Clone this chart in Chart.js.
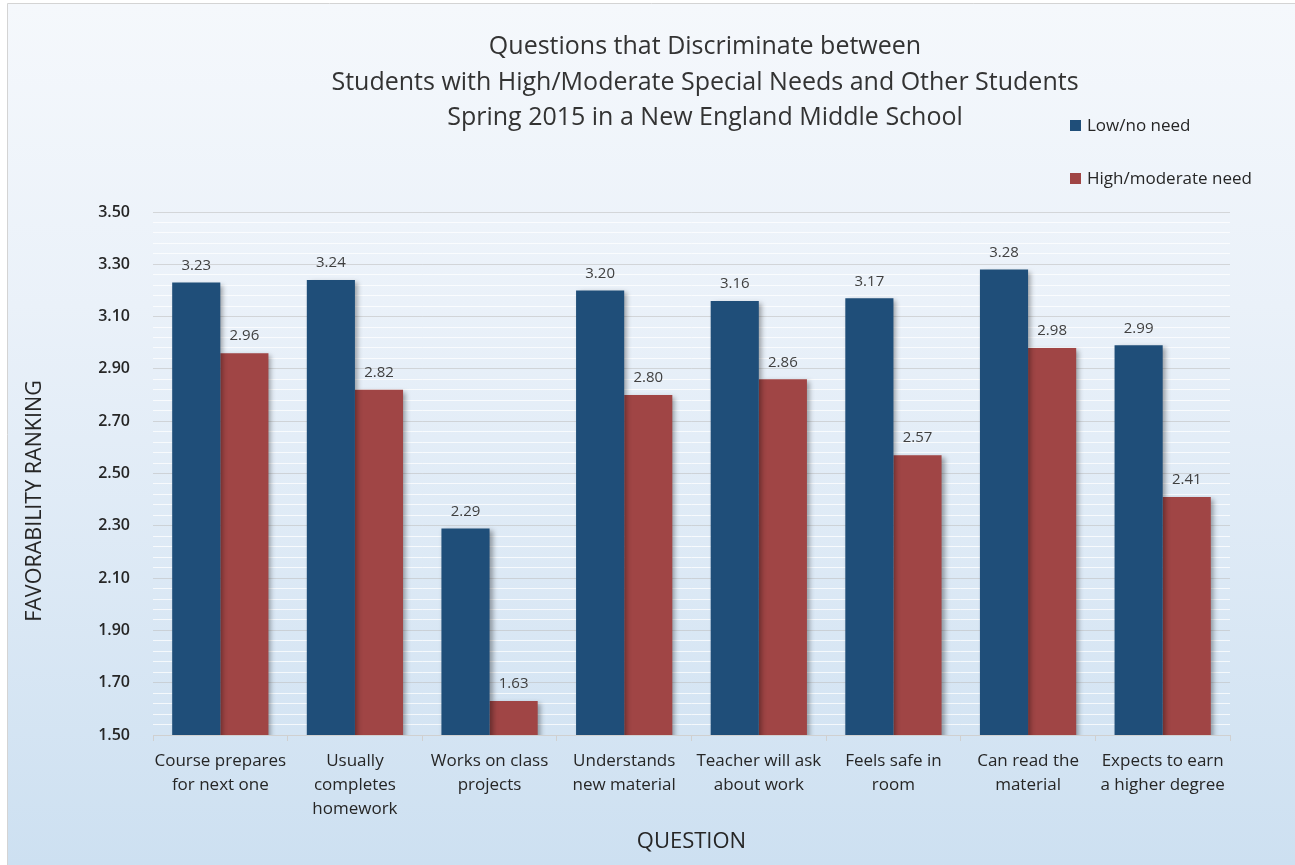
<!DOCTYPE html>
<html>
<head>
<meta charset="utf-8">
<script src="https://cdn.jsdelivr.net/npm/chart.js@4.4.1/dist/chart.umd.min.js"></script>
<style>
  html, body { margin: 0; padding: 0; background: #ffffff; }
  #wrap { position: relative; width: 1295px; height: 865px; }
</style>
</head>
<body>
<div id="wrap"><canvas id="c" width="1295" height="865"></canvas></div>
<script>
// ---- data ----
const categories = [
  ["Course prepares", "for next one"],
  ["Usually", "completes", "homework"],
  ["Works on class", "projects"],
  ["Understands", "new material"],
  ["Teacher will ask", "about work"],
  ["Feels safe in", "room"],
  ["Can read the", "material"],
  ["Expects to earn", "a higher degree"]
];
const lowNoNeed = [3.23, 3.24, 2.29, 3.20, 3.16, 3.17, 3.28, 2.99];
const highModerateNeed = [2.96, 2.82, 1.63, 2.80, 2.86, 2.57, 2.98, 2.41];
const seriesNames = ["Low/no need", "High/moderate need"];
const titleLines = [
  "Questions that Discriminate between",
  "Students with High/Moderate Special Needs and Other Students",
  "Spring 2015 in a New England Middle School"
];
const yAxisTitle = "FAVORABILITY RANKING";
const xAxisTitle = "QUESTION";
const yMin = 1.5, yMax = 3.5, yMinorStep = 0.04;

const FONT = "'Open Sans', Lato, 'DejaVu Sans', sans-serif";
const TEXT = "#262626";

// ---- plugins ----
const backgroundPlugin = {
  id: 'bg',
  beforeDraw(chart) {
    const ctx = chart.ctx;
    const W = chart.width, H = chart.height;
    ctx.save();
    ctx.fillStyle = '#ffffff';
    ctx.fillRect(0, 0, W, H);
    const g = ctx.createLinearGradient(0, 4, 0, H);
    g.addColorStop(0, '#f5f8fc');
    g.addColorStop(0.35, '#eaf1f9');
    g.addColorStop(1, '#cde0f1');
    ctx.fillStyle = g;
    ctx.fillRect(8, 4, W - 8, H - 4);
    ctx.strokeStyle = '#d4d4d4';
    ctx.lineWidth = 1;
    ctx.beginPath();
    ctx.moveTo(7.5, H);
    ctx.lineTo(7.5, 3.5);
    ctx.lineTo(W, 3.5);
    ctx.stroke();
    ctx.restore();
  }
};

const shadowPlugin = {
  id: 'barShadow',
  beforeDatasetDraw(chart) {
    const ctx = chart.ctx;
    ctx.save();
    ctx.shadowColor = 'rgba(0,0,0,0.35)';
    ctx.shadowBlur = 5;
    ctx.shadowOffsetX = 3;
    ctx.shadowOffsetY = 2;
  },
  afterDatasetDraw(chart) {
    chart.ctx.restore();
  }
};

const labelsPlugin = {
  id: 'valueLabels',
  afterDatasetsDraw(chart) {
    const ctx = chart.ctx;
    ctx.save();
    ctx.font = "15px " + FONT;
    ctx.fillStyle = '#404040';
    ctx.textAlign = 'center';
    ctx.textBaseline = 'middle';
    chart.data.datasets.forEach((ds, i) => {
      const meta = chart.getDatasetMeta(i);
      meta.data.forEach((bar, j) => {
        ctx.fillText(ds.data[j].toFixed(2), bar.x, bar.y - 17);
      });
    });
    ctx.restore();
  }
};

const titleLegendPlugin = {
  id: 'titleLegend',
  afterDraw(chart) {
    const ctx = chart.ctx;
    ctx.save();
    // title
    ctx.font = "25px " + FONT;
    ctx.fillStyle = '#333333';
    ctx.textAlign = 'center';
    ctx.textBaseline = 'middle';
    titleLines.forEach((t, i) => ctx.fillText(t, 705, 47 + i * 35.5));
    // y axis title
    ctx.save();
    ctx.translate(35, 501);
    ctx.rotate(-Math.PI / 2);
    ctx.font = "21.5px " + FONT;
    ctx.fillStyle = TEXT;
    ctx.fillText(yAxisTitle, 0, 0);
    ctx.restore();
    // legend
    ctx.font = "17px " + FONT;
    ctx.textAlign = 'left';
    chart.data.datasets.forEach((ds, i) => {
      const y = 126 + i * 53;
      ctx.fillStyle = ds.backgroundColor;
      ctx.fillRect(1070, y - 6, 11, 11);
      ctx.fillStyle = TEXT;
      ctx.fillText(ds.label, 1087, y);
    });
    ctx.restore();
  }
};

const ctx = document.getElementById('c').getContext('2d');
new Chart(ctx, {
  type: 'bar',
  data: {
    labels: categories,
    datasets: [
      { label: seriesNames[0], data: lowNoNeed, backgroundColor: '#1f4e79',
        categoryPercentage: 0.715, barPercentage: 1.0 },
      { label: seriesNames[1], data: highModerateNeed, backgroundColor: '#a04545',
        categoryPercentage: 0.715, barPercentage: 1.0 }
    ]
  },
  options: {
    responsive: false,
    animation: false,
    devicePixelRatio: 1,
    layout: { padding: { top: 212, left: 8, right: 65, bottom: 0 } },
    plugins: {
      legend: { display: false },
      title: { display: false },
      tooltip: { enabled: false }
    },
    scales: {
      y: {
        min: yMin,
        max: yMax,
        afterFit(scale) { scale.width = 145; },
        ticks: {
          stepSize: yMinorStep,
          autoSkip: false,
          padding: 23,
          color: TEXT,
          font: { family: FONT, size: 16, weight: '600' },
          callback(v) {
            const k = Math.round(v * 100);
            return (k - 150) % 20 === 0 ? (k / 100).toFixed(2) : '';
          }
        },
        grid: {
          drawTicks: false,
          color(c) {
            const k = Math.round(c.tick.value * 100);
            return (k - 150) % 20 === 0 ? 'rgba(190,190,190,0.55)' : 'rgba(255,255,255,0.75)';
          },
          lineWidth: 1
        },
        border: { display: false }
      },
      x: {
        afterFit(scale) { scale.height = 130; },
        ticks: {
          padding: 8,
          color: TEXT,
          font: { family: FONT, size: 17, lineHeight: 1.412 },
          maxRotation: 0,
          autoSkip: false
        },
        grid: {
          display: true,
          drawOnChartArea: false,
          tickLength: 6,
          color: '#d0d0d0'
        },
        border: { display: true, color: '#d0d0d0' },
        title: {
          display: true,
          text: xAxisTitle,
          color: TEXT,
          font: { family: FONT, size: 22 },
          padding: { top: 0, bottom: 10.5 }
        }
      }
    }
  },
  plugins: [backgroundPlugin, shadowPlugin, labelsPlugin, titleLegendPlugin]
});
</script>
</body>
</html>
